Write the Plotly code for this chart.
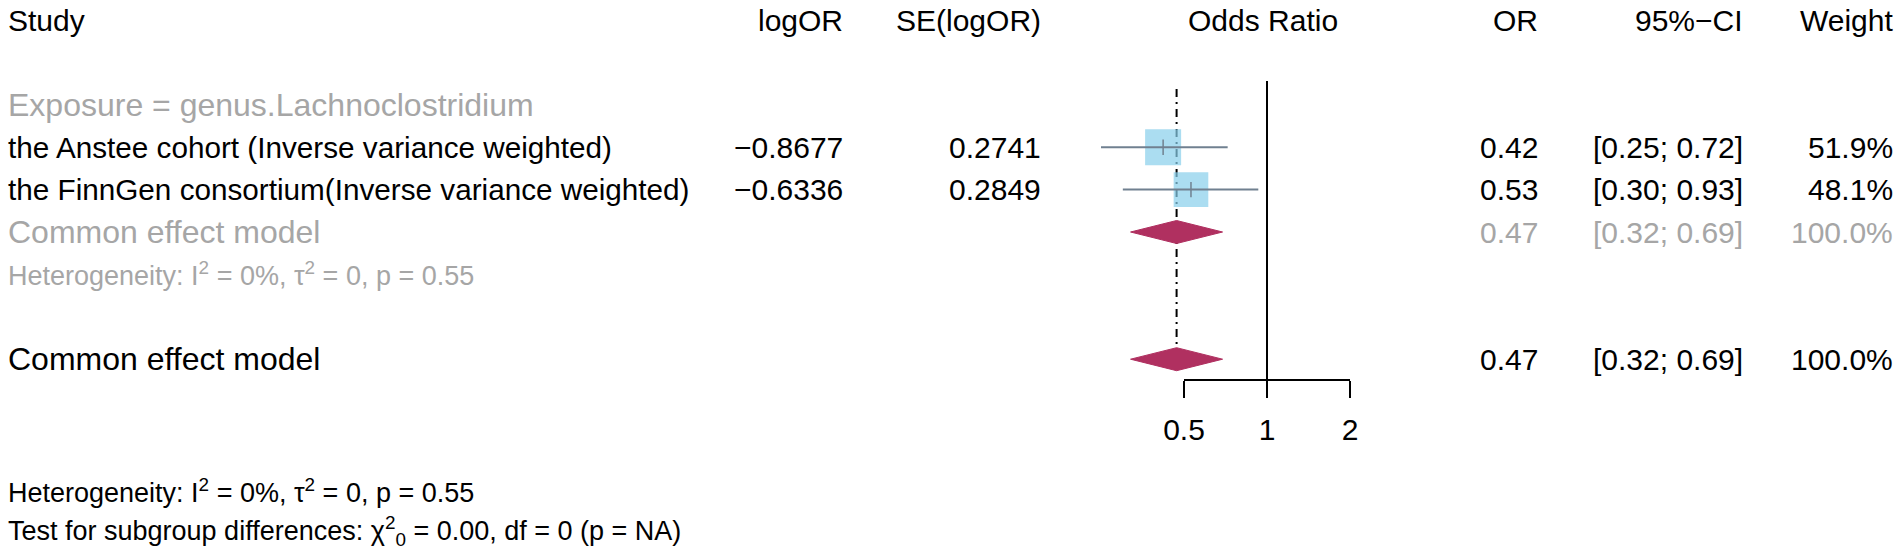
"""Forest plot: genus.Lachnoclostridium (common effect meta-analysis)"""
import math
import plotly.graph_objects as go

# ---- data ----
studies = ["the Anstee cohort (Inverse variance weighted)",
           "the FinnGen consortium(Inverse variance weighted)"]
log_or = [-0.8677, -0.6336]
se_log_or = [0.2741, 0.2849]
odds_ratio = [0.42, 0.53]
ci_lower = [0.25, 0.30]
ci_upper = [0.72, 0.93]
weights = [51.9, 48.1]

subgroup_label = "Exposure = genus.Lachnoclostridium"
pooled_label = "Common effect model"
pooled_or = 0.47
pooled_lower = 0.32
pooled_upper = 0.69
pooled_weight = 100.0

headers = ["Study", "logOR", "SE(logOR)", "Odds Ratio", "OR", "95%\u2212CI", "Weight"]
tick_vals = [0.5, 1, 2]
tick_text = ["0.5", "1", "2"]

het_text = "Heterogeneity: I<sup>2</sup> = 0%, \u03c4<sup>2</sup> = 0, p = 0.55"
subgroup_test_text = ("Test for subgroup differences: \u03c7<sup>2</sup><sub>0</sub>"
                      " = 0.00, df = 0 (p = NA)")

# ---- layout constants (pixels) ----
W, H = 1902, 555
ROW0 = 20          # pixel y of header row
PITCH = 42.4       # pixel distance between rows
OR1_PX = 1267      # pixel x of OR = 1
PX_DOUBLE = 83     # pixels per doubling of OR
FONT = "Liberation Sans, Arial, sans-serif"
FS = 30            # headers and numbers
FS_STUDY = 29.7    # study names
FS_LABEL = 32      # subgroup / pooled labels
FS_HET = 27
GREY = "#a6a6a6"
CI_COL = "#708090"
SQ_COL = "#87ceeb"
DIA_COL = "#b03060"

px_per_decade = PX_DOUBLE / math.log10(2)
x_range = [-OR1_PX / px_per_decade, (W - OR1_PX) / px_per_decade]
y_range = [(H - ROW0) / PITCH, -ROW0 / PITCH]


def row_px(r):
    return ROW0 + r * PITCH


def fmt_num(v, d):
    return f"{v:.{d}f}".replace("-", "\u2212")


study_rows = [3, 4]
pooled_rows = [5, 8]
axis_row = 8.5
half_dia = 11.5 / PITCH

fig = go.Figure()

# reference line at OR = 1 and dash-dot line at pooled estimate
fig.add_trace(go.Scatter(x=[1, 1], y=[(81 - ROW0) / PITCH, axis_row], mode="lines",
                         line=dict(color="black", width=2), hoverinfo="skip"))
fig.add_trace(go.Scatter(x=[pooled_or, pooled_or], y=[(89 - ROW0) / PITCH, 7.72], mode="lines",
                         line=dict(color="black", width=2, dash="8px,5px,2px,5px"),
                         hoverinfo="skip"))

# study squares (area ~ weight)
max_w = max(weights)
fig.add_trace(go.Scatter(x=odds_ratio, y=study_rows, mode="markers",
                         marker=dict(symbol="square", color=SQ_COL,
                                     size=[36 * math.sqrt(w / max_w) for w in weights],
                                     line=dict(width=0)),
                         hoverinfo="skip"))

# confidence intervals
for r, lo, hi in zip(study_rows, ci_lower, ci_upper):
    fig.add_trace(go.Scatter(x=[lo, hi], y=[r, r], mode="lines",
                             line=dict(color=CI_COL, width=2), hoverinfo="skip"))
fig.add_trace(go.Scatter(x=odds_ratio, y=study_rows, mode="markers",
                         marker=dict(symbol="line-ns-open", size=11, color=CI_COL,
                                     line=dict(color=CI_COL, width=1.5)),
                         hoverinfo="skip"))

# pooled diamonds
for r in pooled_rows:
    fig.add_trace(go.Scatter(x=[pooled_lower, pooled_or, pooled_upper, pooled_or, pooled_lower],
                             y=[r, r - half_dia, r, r + half_dia, r],
                             mode="lines", fill="toself", fillcolor=DIA_COL,
                             line=dict(color=DIA_COL, width=1), hoverinfo="skip"))

# carrier trace for the visible OR axis
fig.add_trace(go.Scatter(x=tick_vals, y=[-5] * len(tick_vals), xaxis="x2", yaxis="y",
                         mode="markers", marker=dict(opacity=0), hoverinfo="skip"))

# ---- text columns ----
col_x = [6, 845, 1043, 1263, 1540, 1745, 1895]
col_anchor = ["left", "right", "right", "center", "right", "right", "right"]


def add_text(x, r, s, anchor, color="black", size=FS):
    fig.add_annotation(x=x / W, y=r, xref="paper", yref="y", text=s, showarrow=False,
                       xanchor=anchor, yanchor="middle",
                       font=dict(family=FONT, size=size, color=color))


for hx, ha, h in zip(col_x, col_anchor, headers):
    add_text(hx, 0, h, ha)

add_text(col_x[0], 2, subgroup_label, "left", GREY, FS_LABEL)

for i, r in enumerate(study_rows):
    add_text(col_x[0], r, studies[i], "left", size=FS_STUDY)
    add_text(col_x[1], r, fmt_num(log_or[i], 4), "right")
    add_text(col_x[2], r, fmt_num(se_log_or[i], 4), "right")
    add_text(col_x[4], r, fmt_num(odds_ratio[i], 2), "right")
    add_text(col_x[5], r, f"[{ci_lower[i]:.2f}; {ci_upper[i]:.2f}]", "right")
    add_text(col_x[6], r, f"{weights[i]:.1f}%", "right")

for r, col in zip(pooled_rows, [GREY, "black"]):
    add_text(col_x[0], r, pooled_label, "left", col, FS_LABEL)
    add_text(col_x[4], r, fmt_num(pooled_or, 2), "right", col)
    add_text(col_x[5], r, f"[{pooled_lower:.2f}; {pooled_upper:.2f}]", "right", col)
    add_text(col_x[6], r, f"{pooled_weight:.1f}%", "right", col)

add_text(col_x[0], 6, het_text, "left", GREY, FS_HET)
add_text(col_x[0], 11.1, het_text, "left", "black", FS_HET)
add_text(col_x[0], 12.05, subgroup_test_text, "left", "black", FS_HET)

ax_lo = OR1_PX - PX_DOUBLE
ax_hi = OR1_PX + PX_DOUBLE

fig.update_layout(
    template="none",
    width=W, height=H, autosize=False,
    margin=dict(l=0, r=0, t=0, b=0, pad=0, autoexpand=False),
    paper_bgcolor="white", plot_bgcolor="rgba(0,0,0,0)",
    showlegend=False,
    xaxis=dict(type="log", domain=[0, 1], range=x_range, visible=False,
               fixedrange=True, automargin=False),
    yaxis=dict(range=y_range, visible=False, fixedrange=True, automargin=False),
    xaxis2=dict(type="log", domain=[ax_lo / W, ax_hi / W],
                range=[math.log10(tick_vals[0]), math.log10(tick_vals[-1])],
                anchor="free", position=1 - row_px(axis_row) / H, automargin=False,
                tickvals=tick_vals, ticktext=tick_text,
                ticks="outside", ticklen=17, tickwidth=2, tickcolor="black",
                showline=True, linewidth=2, linecolor="black",
                showgrid=False, zeroline=False, ticklabelstandoff=6,
                tickfont=dict(family=FONT, size=FS, color="black")),
)

# the page body has a default 8px margin; drop it so the figure fills the window
fig.write_html("out.html", config={"displayModeBar": False},
               post_script="document.body.style.margin = '0px';")
